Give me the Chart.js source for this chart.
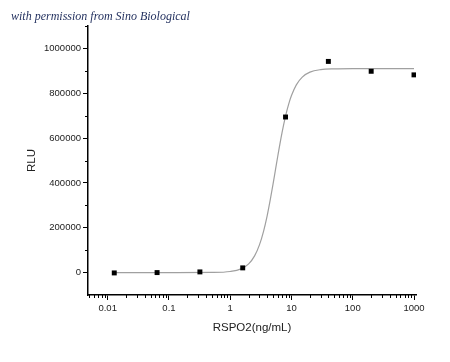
<!DOCTYPE html>
<html lang="en">
<head>
    <meta charset="UTF-8">
    <script src="https://cdn.jsdelivr.net/npm/chart.js"></script>
    <title>RSPO2 dose response</title>
    <style>
        body { margin: 0; background: #fff; }
        #wrap { position: relative; width: 450px; height: 362px; }
        #note {
            position: absolute; left: 11px; top: 9px;
            font: italic 12px "Liberation Serif", "DejaVu Serif", serif;
            color: #1f2d5c; white-space: nowrap;
        }
    </style>
</head>
<body>
    <div id="wrap">
        <canvas id="chart" width="450" height="362"></canvas>
        <div id="note">with permission from Sino Biological</div>
    </div>

    <script>
        // measured points (5-fold dilution series)
        const doseX = [0.0128, 0.064, 0.32, 1.6, 8, 40, 200, 1000];
        const rluY = [-1500, 0, 3000, 21000, 694000, 942000, 898000, 882000];

        // fitted curve
        const fitX = [0.0128, 0.1, 0.5, 1, 1.5, 2, 2.5, 3, 3.5, 4, 4.5, 5, 5.5, 6, 7, 8, 9, 10, 12, 15, 20, 30, 50, 100, 1000];
        const fitY = [0, 0, 600, 4700, 16400, 39000, 74600, 123500, 184000, 252000, 324000, 394600, 461400, 522300, 623000, 697700, 751300, 789700, 837500, 872200, 894100, 905400, 909000, 910000, 910000];

        const xMajor = [0.01, 0.1, 1, 10, 100, 1000];
        const yMajor = [0, 200000, 400000, 600000, 800000, 1000000];
        const yMinor = [100000, 300000, 500000, 700000, 900000, 1100000];

        const tickFont = { family: 'Liberation Sans, Arial, sans-serif', size: 9.5 };

        // short minor ticks, Origin style
        const minorTicks = {
            id: 'minorTicks',
            afterDraw(chart) {
                const ctx = chart.ctx;
                const xs = chart.scales.x, ys = chart.scales.y;
                ctx.save();
                ctx.strokeStyle = '#000';
                ctx.lineWidth = 1;
                ctx.beginPath();
                for (let d = -3; d <= 3; d++) {
                    for (let m = 2; m <= 9; m++) {
                        const v = m * Math.pow(10, d);
                        if (v < xs.min || v > xs.max) continue;
                        const px = Math.round(xs.getPixelForValue(v)) + 0.5;
                        ctx.moveTo(px, xs.top);
                        ctx.lineTo(px, xs.top + 3);
                    }
                }
                yMinor.forEach(v => {
                    const py = Math.round(ys.getPixelForValue(v)) + 0.5;
                    ctx.moveTo(ys.right, py);
                    ctx.lineTo(ys.right - 3, py);
                });
                ctx.stroke();
                ctx.restore();
            }
        };

        const ctx = document.getElementById('chart').getContext('2d');
        const chart = new Chart(ctx, {
            type: 'scatter',
            data: {
                datasets: [
                    {
                        label: 'RLU',
                        data: doseX.map((x, i) => ({ x: x, y: rluY[i] })),
                        pointStyle: 'rect',
                        pointRadius: 3.5,
                        pointBackgroundColor: '#000',
                        pointBorderColor: '#000',
                        pointBorderWidth: 0,
                        showLine: false,
                    },
                    {
                        label: 'Fit',
                        data: fitX.map((x, i) => ({ x: x, y: fitY[i] })),
                        showLine: true,
                        borderColor: '#a0a0a0',
                        borderWidth: 1.2,
                        pointRadius: 0,
                        cubicInterpolationMode: 'monotone',
                        fill: false,
                    },
                ],
            },
            options: {
                responsive: false,
                animation: false,
                layout: { padding: { left: 0, right: 34, top: 26, bottom: 0 } },
                plugins: {
                    legend: { display: false },
                    tooltip: { enabled: false },
                },
                scales: {
                    x: {
                        type: 'logarithmic',
                        min: 0.00477,
                        max: 1078,
                        afterBuildTicks: (s) => { s.ticks = xMajor.map(v => ({ value: v })); },
                        afterFit: (s) => { s.height = 67; },
                        ticks: {
                            color: '#222',
                            font: tickFont,
                            padding: 3,
                            maxRotation: 0,
                            autoSkip: false,
                            callback: (v) => String(v),
                        },
                        grid: { drawOnChartArea: false, tickLength: 5, color: '#000' },
                        border: { color: '#000', width: 1.5 },
                        title: {
                            display: true,
                            text: 'RSPO2(ng/mL)',
                            color: '#222',
                            font: { family: 'Liberation Sans, Arial, sans-serif', size: 11.5 },
                            padding: { top: 0, bottom: 27 },
                        },
                    },
                    y: {
                        min: -100000,
                        max: 1100000,
                        afterBuildTicks: (s) => { s.ticks = yMajor.map(v => ({ value: v })); },
                        afterFit: (s) => { s.width = 88; },
                        ticks: {
                            color: '#222',
                            font: tickFont,
                            padding: 2,
                            autoSkip: false,
                            callback: (v) => String(v),
                        },
                        grid: { drawOnChartArea: false, tickLength: 5, color: '#000' },
                        border: { color: '#000', width: 1.5 },
                        title: {
                            display: true,
                            text: 'RLU',
                            color: '#222',
                            font: { family: 'Liberation Sans, Arial, sans-serif', size: 11.5 },
                            padding: { top: 25, bottom: 0 },
                        },
                    },
                },
            },
            plugins: [minorTicks],
        });
    </script>
</body>
</html>
